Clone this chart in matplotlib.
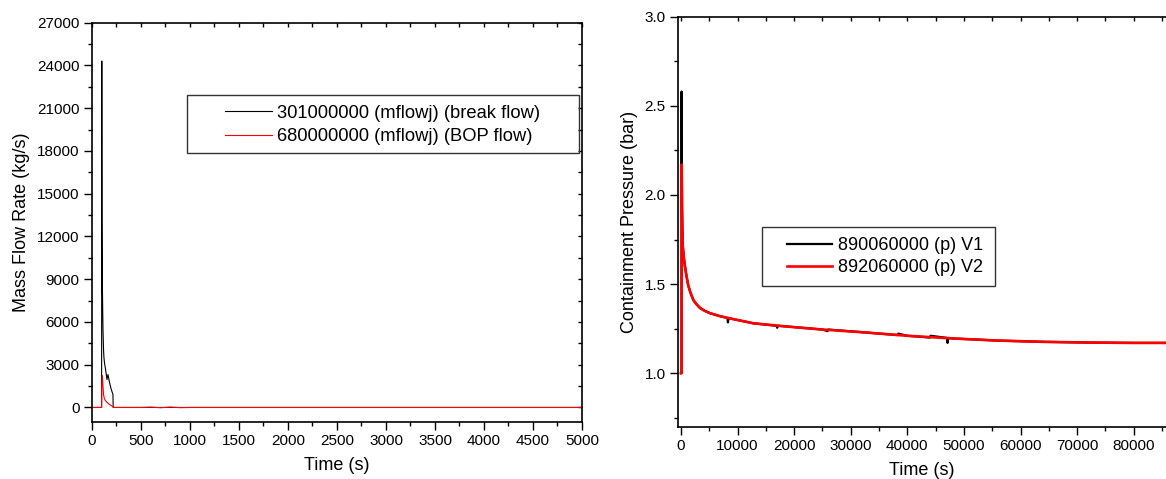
import matplotlib
matplotlib.use("Agg")
import matplotlib.pyplot as plt
from matplotlib.patches import Rectangle
from matplotlib.ticker import MultipleLocator, FormatStrFormatter
from matplotlib import lines

plt.rcParams['font.family'] = ['Liberation Sans', 'DejaVu Sans']

# left panel: mass flow rates (kg/s) vs time (s)
t_break = [0, 98, 100, 102, 106, 112, 118, 122, 128, 136, 145, 153, 163, 172, 180, 195, 214, 216, 230, 5000]
m_break = [0, 0, 24300, 13000, 8500, 5500, 4000, 3500, 3100, 2780, 2350, 1960, 2310, 2000, 1720, 1300, 900, 0, 0, 0]

t_bop = [0, 98, 100, 106, 112, 118, 125, 135, 150, 180, 224, 500, 600, 700, 800, 900, 1000, 1400, 5000]
m_bop = [0, 0, 1500, 2240, 1500, 900, 650, 500, 380, 200, 0, 0, 25, -20, 30, -15, 0, 0, 0]

# right panel: containment pressure (bar) vs time (s)
t_v2 = [0, 100, 120, 200, 300, 500, 700, 1000, 1300, 1700, 2200, 2800, 3400, 4200, 5100, 6900,
        9000, 12800, 18700, 25000, 32000, 40000, 48000, 56000, 64000, 72000, 80000, 86000]
p_v2 = [1.0, 1.0, 2.17, 1.9, 1.72, 1.65, 1.60, 1.54, 1.49, 1.45, 1.41, 1.385, 1.365, 1.35, 1.337, 1.32,
        1.305, 1.28, 1.262, 1.245, 1.23, 1.21, 1.195, 1.183, 1.176, 1.172, 1.17, 1.17]

t_v1 = [0, 100, 110, 125, 200, 300, 500, 700, 1000, 1300, 1700, 2200, 2800, 3400, 4200, 5100, 6900,
        8200, 8300, 8400, 9000, 12800, 16900, 17000, 17100, 18700, 25000, 25900, 26000, 32000,
        38300, 38400, 40000, 44000, 44100, 47000, 47100, 47200, 48000, 56000, 64000, 72000, 80000, 86000]
p_v1 = [1.0, 1.0, 2.58, 2.2, 1.9, 1.72, 1.65, 1.60, 1.54, 1.49, 1.45, 1.41, 1.385, 1.365, 1.35, 1.337, 1.32,
        1.31, 1.285, 1.31, 1.305, 1.28, 1.266, 1.255, 1.266, 1.262, 1.245, 1.236, 1.245, 1.23,
        1.214, 1.222, 1.21, 1.2, 1.21, 1.198, 1.17, 1.198, 1.195, 1.183, 1.176, 1.172, 1.17, 1.17]

fig = plt.figure(figsize=(11.66, 4.79), dpi=100)

# ---------------- left panel
ax1 = fig.add_axes([0.0789, 0.1196, 0.4202, 0.8332])
ax1.plot(t_break, m_break, color='black', lw=0.8)
ax1.plot(t_bop, m_bop, color='#ff0000', lw=0.8)
ax1.set_xlim(0, 5000)
ax1.set_ylim(-1000, 27000)
ax1.xaxis.set_major_locator(MultipleLocator(500))
ax1.xaxis.set_minor_locator(MultipleLocator(250))
ax1.yaxis.set_major_locator(MultipleLocator(3000))
ax1.yaxis.set_minor_locator(MultipleLocator(1500))
ax1.set_xlabel('Time (s)', fontsize=13, labelpad=6)
ax1.set_ylabel('Mass Flow Rate (kg/s)', fontsize=13, labelpad=5)

ax1.add_patch(Rectangle((0.194, 0.674), 0.8, 0.1455, transform=ax1.transAxes,
                        fill=False, edgecolor='#333333', lw=1.0, zorder=5))
ax1.legend(['301000000 (mflowj) (break flow)', '680000000 (mflowj) (BOP flow)'],
           loc='center left', bbox_to_anchor=(0.2714, 0.744), frameon=False,
           fontsize=13.2, handlelength=2.57, handletextpad=0.27, borderpad=0,
           borderaxespad=0, labelspacing=0.35)

# ---------------- right panel
ax2 = fig.add_axes([0.5817, 0.1092, 0.4183, 0.856])
ax2.plot(t_v1, p_v1, color='black', lw=1.6)
ax2.plot(t_v2, p_v2, color='#ff0000', lw=1.9)
ax2.set_xlim(-480, 85700)
ax2.set_ylim(0.7, 3.0)
ax2.set_xticks([0, 10000, 20000, 30000, 40000, 50000, 60000, 70000, 80000])
ax2.xaxis.set_minor_locator(MultipleLocator(5000))
ax2.yaxis.set_major_locator(MultipleLocator(0.5))
ax2.yaxis.set_minor_locator(MultipleLocator(0.25))
ax2.yaxis.set_major_formatter(FormatStrFormatter('%.1f'))
ax2.set_xlabel('Time (s)', fontsize=13, labelpad=6)
ax2.set_ylabel('Containment Pressure (bar)', fontsize=13, labelpad=5)
ax2.spines['right'].set_visible(False)

ax2.add_patch(Rectangle((0.1716, 0.343), 0.4774, 0.144, transform=ax2.transAxes,
                        fill=False, edgecolor='#333333', lw=1.0, zorder=5))
ax2.legend(['890060000 (p) V1', '892060000 (p) V2'],
           loc='center left', bbox_to_anchor=(0.223, 0.415), frameon=False,
           fontsize=13, handlelength=2.5, handletextpad=0.35, borderpad=0,
           borderaxespad=0, labelspacing=0.3)

for ax in (ax1, ax2):
    for s in ax.spines.values():
        s.set_linewidth(1.2)
    ax.tick_params(which='both', direction='out', labelsize=11, width=1.0,
                   top=True, right=(ax is ax1), labeltop=False, labelright=False)
    ax.tick_params(which='major', length=5.5)
    ax.tick_params(which='minor', length=3)

# ticks on top/right spines point inward
for ax in (ax1, ax2):
    for t in ax.xaxis.get_major_ticks() + ax.xaxis.get_minor_ticks():
        t.tick2line.set_marker(lines.TICKDOWN)
        t.tick2line.set_markersize(3)
    if ax is ax1:
        for t in ax.yaxis.get_major_ticks() + ax.yaxis.get_minor_ticks():
            t.tick2line.set_marker(lines.TICKLEFT)
            t.tick2line.set_markersize(3)

fig.savefig('out.png', dpi=100)
